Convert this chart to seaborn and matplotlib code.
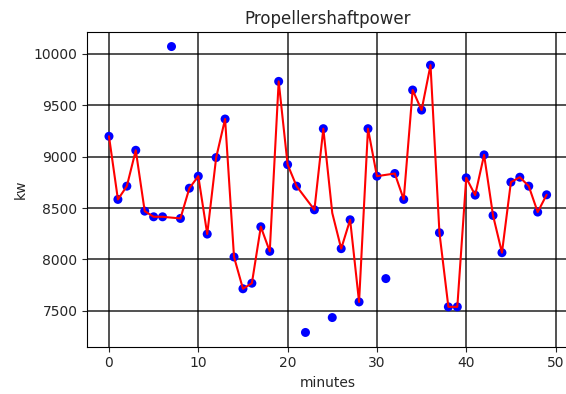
import matplotlib
matplotlib.use("Agg")
import matplotlib.pyplot as plt
import seaborn as sns
import pandas as pd

minutes = list(range(50))
power_kw = [9198, 8584, 8713, 9062, 8470, 8415, 8415, 10071, 8399, 8693,
            8810, 8247, 8991, 9366, 8024, 7715, 7769, 8318, 8079, 9732,
            8923, 8713, 7290, 8483, 9272, 7435, 8105, 8386, 7587, 9272,
            8810, 7814, 8836, 8584, 9648, 9453, 9890, 8260, 7539, 7539,
            8794, 8626, 9017, 8428, 8066, 8752, 8800, 8713, 8461, 8629]
# cleaned series (outliers at 7, 22, 25, 31 replaced) drawn as the red line
smoothed_kw = [9198, 8584, 8713, 9062, 8470, 8415, 8415, 8407, 8399, 8693,
               8810, 8247, 8991, 9366, 8024, 7715, 7769, 8318, 8079, 9732,
               8923, 8713, 8598, 8483, 9272, 8452, 8105, 8386, 7587, 9272,
               8810, 8823, 8836, 8584, 9648, 9453, 9890, 8260, 7539, 7539,
               8794, 8626, 9017, 8428, 8066, 8752, 8800, 8713, 8461, 8629]

df = pd.DataFrame({"minutes": minutes, "kw": power_kw, "clean": smoothed_kw})

sns.set_style("white")
plt.rcParams["font.family"] = ["DejaVu Sans"]

fig = plt.figure(figsize=(5.66, 3.94), dpi=100)
ax = fig.add_axes([87.1 / 566, (394 - 346.7) / 394, (568.5 - 87.1) / 566, (346.7 - 32.3) / 394])

sns.scatterplot(data=df, x="minutes", y="kw", ax=ax, color="blue", s=42,
                edgecolor="none", zorder=2)
sns.lineplot(data=df, x="minutes", y="clean", ax=ax, color="red", linewidth=1.5,
             zorder=3)

ax.set_xlim(-2.45, 51.45)
ax.set_ylim(7151.5, 10209.5)
ax.set_xticks([0, 10, 20, 30, 40, 50])
ax.set_yticks([7500, 8000, 8500, 9000, 9500, 10000])
ax.grid(True, color="black", linewidth=1.2, alpha=0.8)
ax.set_axisbelow(True)
for s in ax.spines.values():
    s.set_color("black")
    s.set_linewidth(0.8)
ax.tick_params(axis="both", which="both", direction="out", length=3.5, width=0.8,
               labelsize=10, colors="#262626", bottom=True, left=True)
ax.set_title("Propellershaftpower", fontsize=12, color="#262626")
ax.set_xlabel("minutes", fontsize=10, color="#262626")
ax.set_ylabel("kw", fontsize=10, color="#262626")

fig.savefig("out.png", dpi=100)
